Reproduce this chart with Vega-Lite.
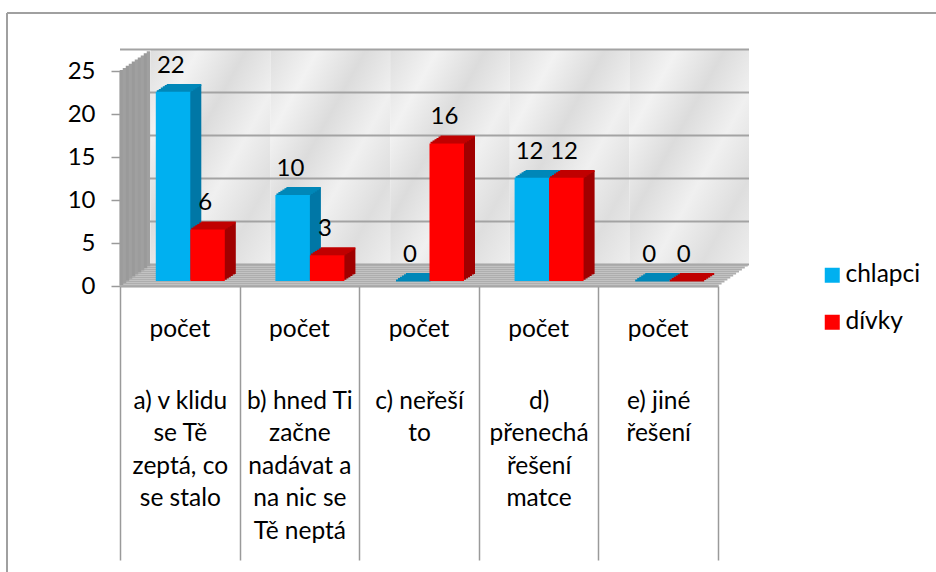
{
"$schema":"https://vega.github.io/schema/vega-lite/v6.json",
"width":598,"height":215,"autosize":"none",
"padding":{"left":120,"top":71,"right":218,"bottom":286},
"background":"white",
"config":{"view":{"stroke":null},"font":"Lato","text":{"font":"Lato"}},
"datasets":{
"cats":[{"c":"a) v klidu|se Tě|zeptá, co|se stalo","p":"počet"},{"c":"b) hned Ti|začne|nadávat a|na nic se|Tě neptá","p":"počet"},{"c":"c) neřeší|to","p":"počet"},{"c":"d)|přenechá|řešení|matce","p":"počet"},{"c":"e) jiné|řešení","p":"počet"}],
"bars":[
{"c":"a) v klidu|se Tě|zeptá, co|se stalo","g":"chlapci","v":22},{"c":"a) v klidu|se Tě|zeptá, co|se stalo","g":"dívky","v":6},
{"c":"b) hned Ti|začne|nadávat a|na nic se|Tě neptá","g":"chlapci","v":10},{"c":"b) hned Ti|začne|nadávat a|na nic se|Tě neptá","g":"dívky","v":3},
{"c":"c) neřeší|to","g":"chlapci","v":0},{"c":"c) neřeší|to","g":"dívky","v":16},
{"c":"d)|přenechá|řešení|matce","g":"chlapci","v":12},{"c":"d)|přenechá|řešení|matce","g":"dívky","v":12},
{"c":"e) jiné|řešení","g":"chlapci","v":0},{"c":"e) jiné|řešení","g":"dívky","v":0}],
"one":[{"k":1}],
"grid":[{"t":0},{"t":5},{"t":10},{"t":15},{"t":20},{"t":25}]
},
"layer":[
{"data":{"name":"one"},"mark":{"type":"rule","color":"#a0a0a0","strokeWidth":2},"encoding":{"x":{"value":-113},"x2":{"value":816},"y":{"value":-58}}},
{"data":{"name":"one"},"mark":{"type":"rule","color":"#a0a0a0","strokeWidth":2},"encoding":{"x":{"value":-113},"y":{"value":-58},"y2":{"value":501}}},
{"data":{"name":"cats"},"mark":{"type":"bar","width":{"band":1},"xOffset":31,"yOffset":-21.5,"y2Offset":-21.5,"fill":{"gradient":"linear","x1":0,"y1":0,"x2":1,"y2":1,"stops":[{"offset":0,"color":"#dedede"},{"offset":0.2,"color":"#f2f2f2"},{"offset":0.4,"color":"#dcdcdc"},{"offset":0.6,"color":"#f0f0f0"},{"offset":0.8,"color":"#dedede"},{"offset":1,"color":"#eeeeee"}]}},"encoding":{"x":{"field":"c","type":"nominal","sort":null,"title":null,"scale":{"paddingInner":0,"paddingOuter":0}},"y":{"datum":25,"type":"quantitative","title":null,"scale":{"domain":[0,25],"nice":false}},"y2":{"datum":0}}},
{"data":{"name":"grid"},"mark":{"type":"rule","color":"#a3a3a3","strokeWidth":2,"xOffset":31,"yOffset":-21.5},"encoding":{"y":{"field":"t","type":"quantitative","title":null}}},
{"data":{"name":"one"},"layer":[
{"mark":{"type":"rule","color":"#adadad","strokeWidth":2.2,"xOffset":0.7,"yOffset":-0.5}},
{"mark":{"type":"rule","color":"#aeaeae","strokeWidth":2.2,"xOffset":3.6,"yOffset":-2.5}},
{"mark":{"type":"rule","color":"#adadad","strokeWidth":2.2,"xOffset":6.5,"yOffset":-4.5}},
{"mark":{"type":"rule","color":"#afafaf","strokeWidth":2.2,"xOffset":9.4,"yOffset":-6.5}},
{"mark":{"type":"rule","color":"#adadad","strokeWidth":2.2,"xOffset":12.3,"yOffset":-8.5}},
{"mark":{"type":"rule","color":"#aeaeae","strokeWidth":2.2,"xOffset":15.2,"yOffset":-10.5}},
{"mark":{"type":"rule","color":"#adadad","strokeWidth":2.2,"xOffset":18.1,"yOffset":-12.5}},
{"mark":{"type":"rule","color":"#afafaf","strokeWidth":2.2,"xOffset":21,"yOffset":-14.5}},
{"mark":{"type":"rule","color":"#adadad","strokeWidth":2.2,"xOffset":23.9,"yOffset":-16.5}},
{"mark":{"type":"rule","color":"#aeaeae","strokeWidth":2.2,"xOffset":26.8,"yOffset":-18.5}},
{"mark":{"type":"rule","color":"#adadad","strokeWidth":2.2,"xOffset":29.7,"yOffset":-20.5}}
],"encoding":{"y":{"datum":0,"type":"quantitative","title":null}}},
{"data":{"name":"cats"},"transform":[{"filter":"datum.c==='a) v klidu|se Tě|zeptá, co|se stalo'"}],"layer":[
{"mark":{"type":"rule","color":"#9c9c9c","strokeWidth":3.5,"xOffset":1.5,"yOffset":-1,"y2Offset":-1}},
{"mark":{"type":"rule","color":"#a0a0a0","strokeWidth":3.5,"xOffset":4.5,"yOffset":-3.1,"y2Offset":-3.1}},
{"mark":{"type":"rule","color":"#9a9a9a","strokeWidth":3.5,"xOffset":7.5,"yOffset":-5.2,"y2Offset":-5.2}},
{"mark":{"type":"rule","color":"#a0a0a0","strokeWidth":3.5,"xOffset":10.5,"yOffset":-7.3,"y2Offset":-7.3}},
{"mark":{"type":"rule","color":"#9a9a9a","strokeWidth":3.5,"xOffset":13.5,"yOffset":-9.4,"y2Offset":-9.4}},
{"mark":{"type":"rule","color":"#a0a0a0","strokeWidth":3.5,"xOffset":16.5,"yOffset":-11.4,"y2Offset":-11.4}},
{"mark":{"type":"rule","color":"#9c9c9c","strokeWidth":3.5,"xOffset":19.5,"yOffset":-13.5,"y2Offset":-13.5}},
{"mark":{"type":"rule","color":"#a0a0a0","strokeWidth":3.5,"xOffset":22.5,"yOffset":-15.6,"y2Offset":-15.6}},
{"mark":{"type":"rule","color":"#9a9a9a","strokeWidth":3.5,"xOffset":25.5,"yOffset":-17.7,"y2Offset":-17.7}},
{"mark":{"type":"rule","color":"#a0a0a0","strokeWidth":3.5,"xOffset":28.5,"yOffset":-19.8,"y2Offset":-19.8}}
],"encoding":{"x":{"field":"c","type":"nominal","sort":null,"bandPosition":0,"title":null},"y":{"datum":0,"type":"quantitative","title":null},"y2":{"datum":25}}},
{"data":{"name":"cats"},"mark":{"type":"text","fontSize":24.5,"yOffset":44,"baseline":"middle","color":"#000"},"encoding":{"x":{"field":"c","type":"nominal","sort":null,"title":null},"y":{"datum":0,"type":"quantitative","title":null},"text":{"field":"p"}}},
{"data":{"name":"bars"},
"encoding":{
"x":{"field":"c","type":"nominal","sort":null,"scale":{"paddingInner":0,"paddingOuter":0},"axis":{"title":null,"labelExpr":"split(datum.label,'|')","labelAngle":0,"labelAlign":"center","labelFontSize":24.5,"labelFont":"Lato","labelColor":"#000","labelLimit":0,"labelLineHeight":32.6,"labelPadding":-159,"labelOverlap":false,"tickBand":"extent","tickSize":274,"tickColor":"#9a9a9a","tickWidth":1.5,"domainColor":"#a0a0a0","domainWidth":2}},
"y":{"field":"v","type":"quantitative","stack":null,"scale":{"domain":[0,25],"nice":false},"axis":{"title":null,"values":[0,5,10,15,20,25],"grid":false,"labelFontSize":24,"labelFont":"Lato","labelColor":"#000","labelPadding":16,"tickSize":9,"tickColor":"#9a9a9a","tickWidth":1.5,"domainColor":"#a0a0a0","domainWidth":2}}
},
"layer":[
{"transform":[{"filter":"datum.g==='chlapci'"}],"layer":[
{"mark":{"type":"bar","xOffset":-4.75,"yOffset":-6.3,"y2Offset":-6.3,"width":34.5,"fill":"#0077a6"},"encoding":{"y2":{"datum":0}}},
{"mark":{"type":"bar","xOffset":-2.75,"yOffset":-7.6,"y2Offset":-7.6,"width":34.5,"fill":"#0077a6"},"encoding":{"y2":{"datum":0}}},
{"mark":{"type":"bar","xOffset":-0.75,"yOffset":-8.8,"y2Offset":-8.8,"width":34.5,"fill":"#0077a6"},"encoding":{"y2":{"datum":0}}},
{"mark":{"type":"bar","xOffset":1.25,"yOffset":-10.1,"y2Offset":-10.1,"width":34.5,"fill":"#0077a6"},"encoding":{"y2":{"datum":0}}},
{"mark":{"type":"bar","xOffset":3.25,"yOffset":-11.4,"y2Offset":-11.4,"width":34.5,"fill":"#0077a6"},"encoding":{"y2":{"datum":0}}},
{"mark":{"type":"bar","xOffset":4.25,"yOffset":-12,"y2Offset":-12,"width":34.5,"fill":"#0077a6"},"encoding":{"y2":{"datum":0}}},
{"mark":{"type":"tick","xOffset":-5.75,"yOffset":-5.6,"size":34.5,"thickness":2,"opacity":1,"color":"#0087b8"}},
{"mark":{"type":"tick","xOffset":-3.75,"yOffset":-6.9,"size":34.5,"thickness":2,"opacity":1,"color":"#0087b8"}},
{"mark":{"type":"tick","xOffset":-1.75,"yOffset":-8.2,"size":34.5,"thickness":2,"opacity":1,"color":"#0087b8"}},
{"mark":{"type":"tick","xOffset":0.25,"yOffset":-9.5,"size":34.5,"thickness":2,"opacity":1,"color":"#0087b8"}},
{"mark":{"type":"tick","xOffset":2.25,"yOffset":-10.8,"size":34.5,"thickness":2,"opacity":1,"color":"#0087b8"}},
{"mark":{"type":"tick","xOffset":4.25,"yOffset":-11.9,"size":34.5,"thickness":2,"opacity":1,"color":"#0087b8"}}
]},
{"transform":[{"filter":"datum.g==='dívky'"}],"layer":[
{"mark":{"type":"bar","xOffset":29.75,"yOffset":-6.3,"y2Offset":-6.3,"width":34.5,"fill":"#a00000"},"encoding":{"y2":{"datum":0}}},
{"mark":{"type":"bar","xOffset":31.75,"yOffset":-7.6,"y2Offset":-7.6,"width":34.5,"fill":"#a00000"},"encoding":{"y2":{"datum":0}}},
{"mark":{"type":"bar","xOffset":33.75,"yOffset":-8.8,"y2Offset":-8.8,"width":34.5,"fill":"#a00000"},"encoding":{"y2":{"datum":0}}},
{"mark":{"type":"bar","xOffset":35.75,"yOffset":-10.1,"y2Offset":-10.1,"width":34.5,"fill":"#a00000"},"encoding":{"y2":{"datum":0}}},
{"mark":{"type":"bar","xOffset":37.75,"yOffset":-11.4,"y2Offset":-11.4,"width":34.5,"fill":"#a00000"},"encoding":{"y2":{"datum":0}}},
{"mark":{"type":"bar","xOffset":38.75,"yOffset":-12,"y2Offset":-12,"width":34.5,"fill":"#a00000"},"encoding":{"y2":{"datum":0}}},
{"mark":{"type":"tick","xOffset":28.75,"yOffset":-5.6,"size":34.5,"thickness":2,"opacity":1,"color":"#c00000"}},
{"mark":{"type":"tick","xOffset":30.75,"yOffset":-6.9,"size":34.5,"thickness":2,"opacity":1,"color":"#c00000"}},
{"mark":{"type":"tick","xOffset":32.75,"yOffset":-8.2,"size":34.5,"thickness":2,"opacity":1,"color":"#c00000"}},
{"mark":{"type":"tick","xOffset":34.75,"yOffset":-9.5,"size":34.5,"thickness":2,"opacity":1,"color":"#c00000"}},
{"mark":{"type":"tick","xOffset":36.75,"yOffset":-10.8,"size":34.5,"thickness":2,"opacity":1,"color":"#c00000"}},
{"mark":{"type":"tick","xOffset":38.75,"yOffset":-11.9,"size":34.5,"thickness":2,"opacity":1,"color":"#c00000"}}
]},
{"transform":[{"filter":"datum.g==='chlapci'"}],"layer":[
{"mark":{"type":"bar","xOffset":-6.75,"yOffset":-5,"y2Offset":-5,"width":34.5,"opacity":1},"encoding":{"y2":{"datum":0},"fill":{"field":"g","type":"nominal","scale":{"domain":["chlapci","dívky"],"range":["#00B0F0","#FF0000"]},"legend":{"title":null,"orient":"none","legendX":700,"legendY":192,"padding":0,"symbolType":"square","symbolSize":225,"symbolOpacity":1,"symbolStrokeWidth":0,"labelFontSize":24.5,"labelFont":"Lato","labelColor":"#000","labelOffset":1,"rowPadding":22}}}},
{"mark":{"type":"text","fontSize":24,"xOffset":-9,"yOffset":-31,"baseline":"middle","color":"#000"},"encoding":{"text":{"field":"v","type":"quantitative"}}}
]},
{"transform":[{"filter":"datum.g==='dívky'"}],"layer":[
{"mark":{"type":"bar","xOffset":27.75,"yOffset":-5,"y2Offset":-5,"width":34.5,"opacity":1},"encoding":{"y2":{"datum":0},"fill":{"field":"g","type":"nominal","scale":{"domain":["chlapci","dívky"],"range":["#00B0F0","#FF0000"]}}}},
{"mark":{"type":"text","fontSize":24,"xOffset":25.5,"yOffset":-31,"baseline":"middle","color":"#000"},"encoding":{"text":{"field":"v","type":"quantitative"}}}
]}
]}
]
}
